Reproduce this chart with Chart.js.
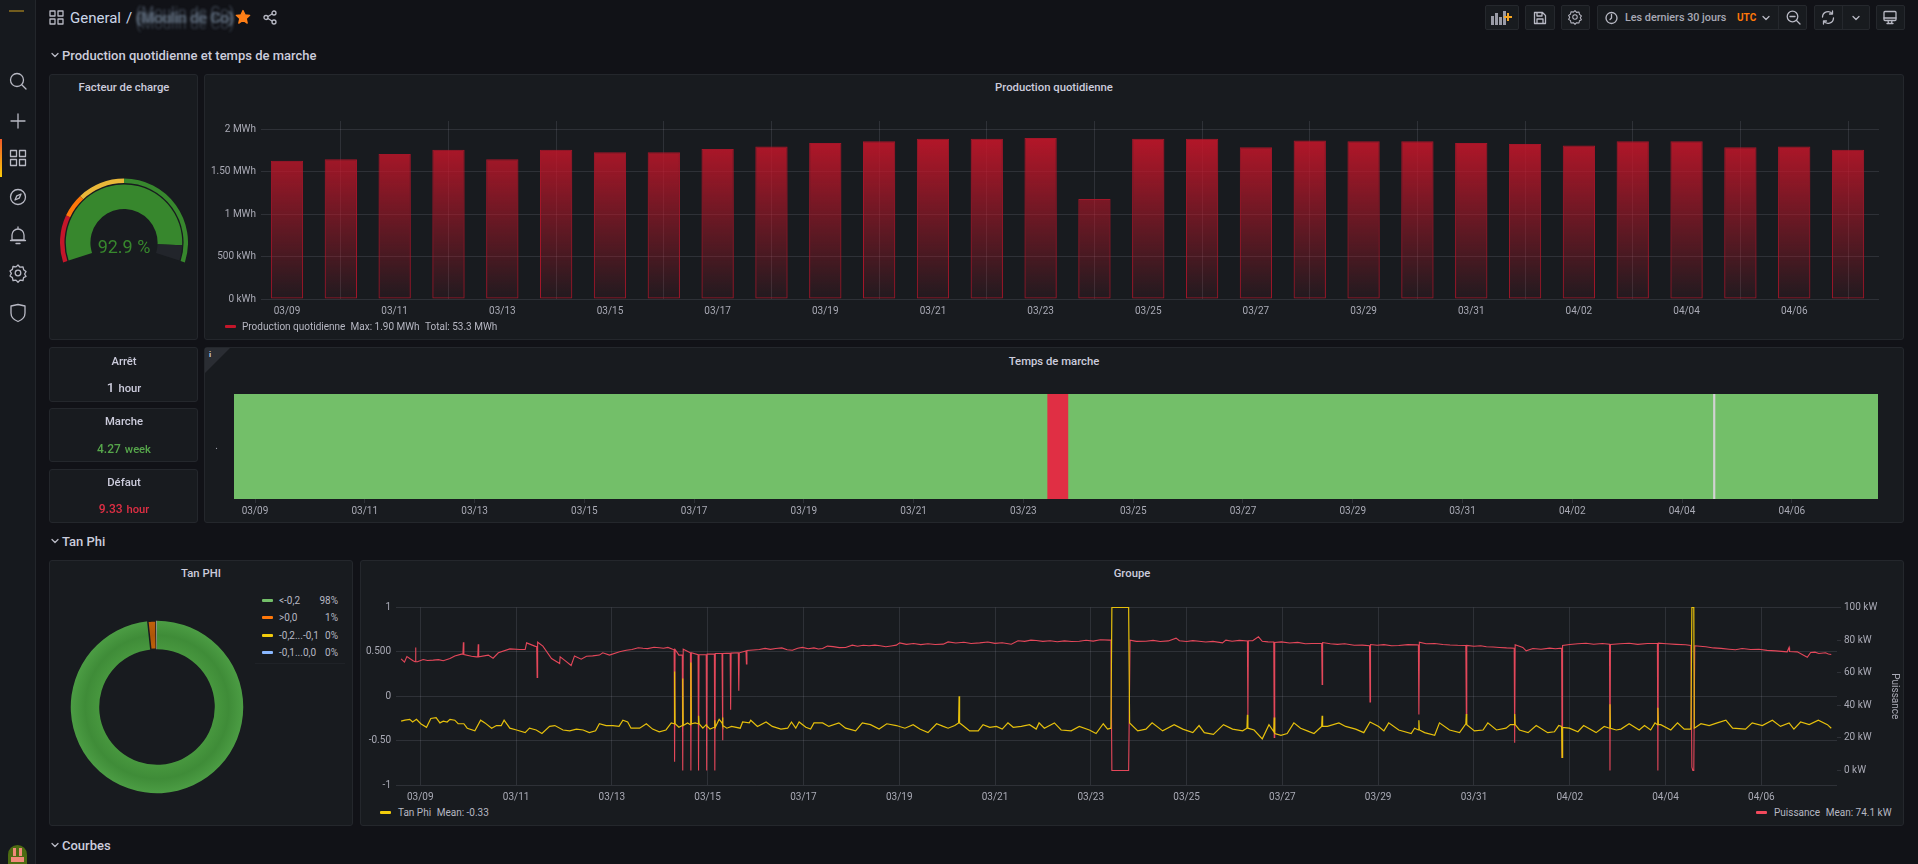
<!DOCTYPE html>
<html><head><meta charset="utf-8"><title>General</title>
<script src="https://cdn.jsdelivr.net/npm/chart.js@4/dist/chart.umd.js"></script>
<style>
html,body{margin:0;padding:0;width:1918px;height:864px;overflow:hidden;background:#111217;font-family:Roboto,sans-serif;color:#ccccdc}
.abs,.panel,.t,canvas,svg{position:absolute}
canvas{display:block}
.panel{background:#181b1f;border:1px solid #24272c;border-radius:3px;box-sizing:border-box}
.t{white-space:nowrap;line-height:1}
.c{transform:translate(-50%,-50%)}
.v{transform:translateY(-50%)}
.title{font-size:11.3px;font-weight:500;color:#ccccdc}
.sec{font-size:13px;font-weight:500;color:#ccccdc}
.leg{font-size:10px;color:#b6b7c2}
.sw{position:absolute;height:3px;border-radius:1px}
.btn{position:absolute;top:5px;height:25px;box-sizing:border-box;background:#181b1f;border:1px solid #25282d;border-radius:2px}
#side{position:absolute;left:0;top:0;width:36px;height:864px;background:#16191e;border-right:1px solid #23262b;box-sizing:border-box}
svg{fill:none;stroke:#b8b9c4;stroke-width:1.3;stroke-linecap:round;stroke-linejoin:round}
</style></head><body>
<div id="side"></div>
<div class="abs" style="left:0;top:139px;width:2px;height:38px;background:linear-gradient(#f05a28,#fbca0a)"></div>
<div class="abs" style="left:9px;top:10px;width:15px;height:2px;background:#8a6d1e;opacity:.8"></div>
<svg style="left:8px;top:71px" width="20" height="20" viewBox="0 0 20 20"><circle cx="9" cy="9" r="6.5"/><path d="M14 14l4 4"/></svg>
<svg style="left:10px;top:113px" width="16" height="16" viewBox="0 0 16 16"><path d="M8 1v14M1 8h14"/></svg>
<svg style="left:9px;top:149px" width="18" height="18" viewBox="0 0 18 18"><rect x="1.5" y="1.5" width="6" height="6"/><rect x="10.5" y="1.5" width="6" height="6"/><rect x="1.5" y="10.5" width="6" height="6"/><rect x="10.5" y="10.5" width="6" height="6"/></svg>
<svg style="left:8px;top:187px" width="20" height="20" viewBox="0 0 20 20"><circle cx="10" cy="10" r="7.5"/><path d="M13 7l-1.8 4.2L7 13l1.8-4.2z"/></svg>
<svg style="left:9px;top:226px" width="18" height="20" viewBox="0 0 18 20"><path d="M3 14V9a6 6 0 0 1 12 0v5zM1.5 14.5h15M7 17.5h4M9 1v2"/></svg>
<svg style="left:8px;top:263px" width="20" height="20" viewBox="0 0 20 20"><circle cx="10" cy="10" r="2.8"/><path d="M10 2l2 2.2 3-.4.6 2.9 2.4 1.9-1.4 2.4 1.4 2.4-2.4 1.2-.6 2.9-3-.4-2 2.2-2-2.2-3 .4-.6-2.9L2 13l1.4-2.6L2 8l2.4-1.6.6-2.9 3 .4z"/></svg>
<svg style="left:9px;top:303px" width="18" height="20" viewBox="0 0 18 20"><path d="M2 3l7-1.5L16 3v7c0 4-3 7-7 8.5C5 17 2 14 2 10z"/></svg>
<div class="abs" style="left:8px;top:845px;width:19px;height:19px;border-radius:50% 50% 0 0;background:#4d6b12;overflow:hidden"><div class="abs" style="left:5px;top:3px;width:3px;height:8px;background:#f08a7a"></div><div class="abs" style="left:11px;top:3px;width:3px;height:8px;background:#f08a7a"></div><div class="abs" style="left:3px;top:12px;width:13px;height:5px;background:#f08a7a"></div></div>

<svg style="left:49px;top:10px" width="15" height="15" viewBox="0 0 15 15"><rect x="1" y="1" width="5" height="5"/><rect x="9" y="1" width="5" height="5"/><rect x="1" y="9" width="5" height="5"/><rect x="9" y="9" width="5" height="5"/></svg>
<div class="t v" style="left:70px;top:18px;font-size:15px;color:#ccd6e8">General</div>
<div class="t v" style="left:126px;top:18px;font-size:15px;color:#ccd6e8">/</div>
<div class="t v" style="left:136px;top:18px;font-size:15px;color:#566272;filter:blur(.8px);text-shadow:0 -6px 1px rgba(90,104,120,.6),0 6px 1px rgba(90,104,120,.5),1px 0 0 #46505c,-1px 0 0 #46505c">(Moulin de Co)</div>
<svg style="left:235px;top:9px;fill:#ff7f17;stroke:#ff7f17" width="16" height="16" viewBox="0 0 16 16"><path d="M8 1.5l2 4.3 4.7.5-3.5 3.2 1 4.6L8 11.3l-4.2 2.8 1-4.6L1.300 6.300 6 5.800z"/></svg>
<svg style="left:263px;top:10px" width="14" height="15" viewBox="0 0 14 15"><circle cx="3" cy="7.500" r="2"/><circle cx="11" cy="3" r="2"/><circle cx="11" cy="12" r="2"/><path d="M5 6.500l4-2.500M5 8.500l4 2.500"/></svg>

<div class="btn" style="left:1485px;width:34px"></div>
<svg style="left:1491px;top:10px;stroke-width:0;fill:#9a9ba6" width="22" height="16" viewBox="0 0 22 16"><rect x="0" y="6" width="3" height="9"/><rect x="4" y="3" width="3" height="12"/><rect x="8" y="7" width="3" height="8"/><rect x="12" y="1" width="3" height="14"/><path d="M16 3h2v3h3v2h-3v3h-2V8h-3V6h3z" fill="#f5a623"/></svg>
<div class="btn" style="left:1525px;width:30px"></div>
<svg style="left:1533px;top:11px" width="14" height="14" viewBox="0 0 14 14"><path d="M1.500 1.500h8l3 3v8h-11zM4 1.500v3.500h5V1.500M4 12.500V8h6v4.500"/></svg>
<div class="btn" style="left:1561px;width:29px"></div>
<svg style="left:1567px;top:9px" width="16" height="16" viewBox="0 0 20 20"><circle cx="10" cy="10" r="2.8"/><path d="M10 2l2 2.2 3-.4.6 2.9 2.4 1.900-1.400 2.400 1.400 2.400-2.400 1.200-.6 2.900-3-.4-2 2.200-2-2.200-3 .4-.6-2.900L2 13l1.400-2.600L2 8l2.400-1.600.6-2.900 3 .4z"/></svg>
<div class="btn" style="left:1597px;width:210px"></div>
<div class="abs" style="left:1778px;top:5px;width:1px;height:25px;background:#25282d"></div>
<svg style="left:1605px;top:11px" width="13" height="14" viewBox="0 0 13 14"><circle cx="6.500" cy="7" r="5.500"/><path d="M6.500 3.500V7L5 8.500"/></svg>
<div class="t v" style="left:1625px;top:18px;font-size:10.800px;font-weight:500;color:#a8a9b5">Les derniers 30 jours</div>
<div class="t v" style="left:1737px;top:18px;font-size:10px;font-weight:700;color:#ff780a">UTC</div>
<svg style="left:1762px;top:14px" width="8" height="8" viewBox="0 0 8 8"><path d="M1 2.500l3 3 3-3"/></svg>
<svg style="left:1786px;top:10px" width="15" height="15" viewBox="0 0 15 15"><circle cx="6.500" cy="6.500" r="5.300"/><path d="M4 6.500h5M10.500 10.500l3.500 3.500"/></svg>
<div class="btn" style="left:1814px;width:56px"></div>
<div class="abs" style="left:1842px;top:5px;width:1px;height:25px;background:#25282d"></div>
<svg style="left:1821px;top:10px" width="14" height="15" viewBox="0 0 14 15"><path d="M1.500 7a5.500 5.500 0 0 1 10-3M12.500 8a5.500 5.500 0 0 1-10 3M11.500 1v3h-3M2.500 14v-3h3"/></svg>
<svg style="left:1852px;top:14px" width="8" height="8" viewBox="0 0 8 8"><path d="M1 2.500l3 3 3-3"/></svg>
<div class="btn" style="left:1876px;width:29px"></div>
<svg style="left:1883px;top:10px" width="14" height="15" viewBox="0 0 14 15"><rect x="1" y="1.500" width="12" height="9" rx="1"/><path d="M4 13.500h6M5 10.500l.5 3M9 10.500l-.5 3M1 8h12"/></svg>

<svg style="left:51px;top:51px" width="8" height="8" viewBox="0 0 8 8"><path d="M1 2.500l3 3 3-3"/></svg>
<div class="t v sec" style="left:62px;top:55px">Production quotidienne et temps de marche</div>
<svg style="left:51px;top:537px" width="8" height="8" viewBox="0 0 8 8"><path d="M1 2.500l3 3 3-3"/></svg>
<div class="t v sec" style="left:62px;top:540.500px">Tan Phi</div>
<svg style="left:51px;top:841px" width="8" height="8" viewBox="0 0 8 8"><path d="M1 2.500l3 3 3-3"/></svg>
<div class="t v sec" style="left:62px;top:845px">Courbes</div>

<div class="panel" style="left:49px;top:74px;width:149px;height:266px"></div>
<div class="t c title" style="left:124px;top:87.500px">Facteur de charge</div>
<canvas id="gauge" class="abs"></canvas>
<div class="t c" style="left:124px;top:247px;font-size:18px;color:#37872d">92.9 %</div>

<div class="panel" style="left:204px;top:74px;width:1700px;height:266px"></div>
<div class="t c title" style="left:1054px;top:87.500px">Production quotidienne</div>
<canvas id="prod" class="abs"></canvas>
<div class="sw" style="left:225px;top:325px;width:11px;background:#c4162a"></div>
<div class="t v leg" style="left:242px;top:327px">Production quotidienne</div>
<div class="t v leg" style="left:350.500px;top:327px">Max: 1.90 MWh</div>
<div class="t v leg" style="left:425px;top:327px">Total: 53.3 MWh</div>

<div class="panel" style="left:49px;top:347px;width:149px;height:55px"></div>
<div class="t c title" style="left:124px;top:361.500px">Arrêt</div>
<div class="t c" style="left:124px;top:386.500px;font-weight:500;color:#ccccdc"><span style="font-size:13.500px">1</span> <span style="font-size:11.200px">hour</span></div>
<div class="panel" style="left:49px;top:408px;width:149px;height:54px"></div>
<div class="t c title" style="left:124px;top:422px">Marche</div>
<div class="t c" style="left:124px;top:447.500px;font-weight:500;color:#56a64b"><span style="font-size:12px">4.27</span> <span style="font-size:11.200px">week</span></div>
<div class="panel" style="left:49px;top:469px;width:149px;height:54px"></div>
<div class="t c title" style="left:124px;top:483px">Défaut</div>
<div class="t c" style="left:124px;top:508px;font-weight:500;color:#e02f44"><span style="font-size:12px">9.33</span> <span style="font-size:11.200px">hour</span></div>

<div class="panel" style="left:204px;top:347px;width:1700px;height:176px"></div>
<div class="abs" style="left:205px;top:348px;width:0;height:0;border-top:25px solid #2a2d33;border-right:25px solid transparent"></div>
<div class="t" style="left:209px;top:351px;font-size:8px;font-weight:700;color:#ccccdc">i</div>
<div class="t c title" style="left:1054px;top:361.500px">Temps de marche</div>
<canvas id="state" class="abs"></canvas>

<div class="panel" style="left:49px;top:560px;width:304px;height:266px"></div>
<div class="t c title" style="left:201px;top:574px">Tan PHI</div>
<canvas id="donut" class="abs"></canvas>
<div class="sw" style="left:262px;top:599px;width:11px;background:#73bf69"></div>
<div class="t v leg" style="left:279px;top:600.700px">&lt;-0,2</div>
<div class="t v leg" style="right:1580px;top:600.700px">98%</div>
<div class="sw" style="left:262px;top:616px;width:11px;background:#ff780a"></div>
<div class="t v leg" style="left:279px;top:617.700px">&gt;0,0</div>
<div class="t v leg" style="right:1580px;top:617.700px">1%</div>
<div class="sw" style="left:262px;top:634px;width:11px;background:#f2cc0c"></div>
<div class="t v leg" style="left:279px;top:635.700px">-0,2...-0,1</div>
<div class="t v leg" style="right:1580px;top:635.700px">0%</div>
<div class="sw" style="left:262px;top:651px;width:11px;background:#8ab8ff"></div>
<div class="t v leg" style="left:279px;top:652.700px">-0,1...0,0</div>
<div class="t v leg" style="right:1580px;top:652.700px">0%</div>
<div class="abs" style="left:255px;top:663px;width:90px;height:1px;background:#1f2227"></div>

<div class="panel" style="left:360px;top:560px;width:1544px;height:266px"></div>
<div class="t c title" style="left:1132px;top:574px">Groupe</div>
<canvas id="group" class="abs"></canvas>
<div class="sw" style="left:380px;top:811px;width:11px;background:#f2cc0c"></div>
<div class="t v leg" style="left:398px;top:812.700px">Tan Phi</div>
<div class="t v leg" style="left:436.700px;top:812.700px">Mean: -0.33</div>
<div class="sw" style="left:1756px;top:811px;width:11px;background:#f2495c"></div>
<div class="t v leg" style="left:1774px;top:812.700px">Puissance</div>
<div class="t v leg" style="left:1825.700px;top:812.700px">Mean: 74.1 kW</div>

<script>
// ---- Production quotidienne (MWh per day; days counted from 03/09)
const prodDays = [0,1,2,3,4,5,6,7,8,9,10,11,12,13,14,15,16,17,18,19,20,21,22,23,24,25,26,27,28,29];
const prodValues = [1.63,1.65,1.71,1.76,1.65,1.76,1.73,1.73,1.77,1.80,1.84,1.86,1.89,1.89,1.90,1.18,1.89,1.89,1.79,1.87,1.86,1.86,1.84,1.83,1.81,1.86,1.86,1.79,1.80,1.76];
const prodTicks = [0,0.5,1,1.5,2];
const prodTickLabels = ['0 kWh','500 kWh','1 MWh','1.50 MWh','2 MWh'];

// ---- Date ticks: days counted from 03/09
const tickDays = [0,2,4,6,8,10,12,14,16,18,20,22,24,26,28];
const tickDates = ['03/09','03/11','03/13','03/15','03/17','03/19','03/21','03/23','03/25','03/27','03/29','03/31','04/02','04/04','04/06'];

// ---- Temps de marche (state periods, days from 03/09)
const stateNames = ['Marche','Défaut','Marche','Arrêt','Marche'];
const stateStarts = [-0.383,14.43,14.81,26.56,26.60];
const stateEnds = [14.43,14.81,26.56,26.60,29.57];
const stateColors = ['#73bf69','#e02f44','#73bf69','#d2d2d2','#73bf69'];

// ---- Facteur de charge
const gaugeValues = [92.9,7.1];
const gaugeColors = ['#37872d','#22252b'];
const gaugeThresholds = [20,10,20,50];
const gaugeThresholdColors = ['#c4162a','#ff780a','#eab839','#37872d'];

// ---- Tan PHI
const tanLabels = ['<-0,2','>0,0','-0,2...-0,1','-0,1...0,0'];
const tanShares = [98.3,1.5,0.1,0.1];

// ---- Groupe: Tan Phi
const tanPhiDays = [
-0.40,-0.32,-0.22,-0.16,-0.08,0.01,0.13,0.22,0.33,0.41,
0.48,0.56,0.62,0.72,0.79,0.91,0.98,1.14,1.26,1.35,
1.49,1.59,1.69,1.75,1.87,2.01,2.19,2.28,2.42,2.54,
2.70,2.81,2.98,3.12,3.26,3.40,3.53,3.66,3.74,3.88,
4.02,4.15,4.23,4.33,4.40,4.58,4.72,4.85,4.99,5.13,
5.24,5.30,5.31,5.32,5.40,5.47,5.48,5.49,5.58,5.64,
5.65,5.66,5.74,5.80,5.81,5.82,5.90,5.97,5.98,6.05,
6.14,6.15,6.16,6.24,6.30,6.31,6.32,6.40,6.50,6.68,
6.73,6.87,6.90,7.04,7.22,7.35,7.53,7.67,7.75,7.84,
7.91,8.05,8.15,8.22,8.40,8.53,8.74,8.88,9.09,9.23,
9.40,9.58,9.74,9.94,10.12,10.29,10.43,10.60,10.78,10.92,
11.02,11.16,11.24,11.25,11.26,11.33,11.47,11.65,11.75,11.89,
12.03,12.15,12.27,12.38,12.55,12.72,12.86,12.92,13.03,13.24,
13.38,13.59,13.76,13.97,14.11,14.26,14.35,14.42,14.44,14.79,
14.81,14.98,15.15,15.28,15.50,15.74,15.92,16.13,16.26,16.37,
16.56,16.77,16.96,17.17,17.26,17.27,17.28,17.41,17.58,17.72,
17.82,17.83,17.84,17.97,18.10,18.24,18.38,18.52,18.66,18.82,
18.83,18.84,18.94,19.18,19.32,19.53,19.70,19.83,20.01,20.12,
20.22,20.43,20.69,20.76,20.84,20.85,20.86,20.97,21.18,21.28,
21.49,21.70,21.83,21.84,21.85,22.01,22.19,22.29,22.47,22.67,
22.76,22.84,22.85,22.86,22.95,23.13,23.30,23.54,23.68,23.77,
23.83,23.84,23.85,23.99,24.17,24.29,24.55,24.72,24.83,24.84,
24.85,24.97,25.07,25.24,25.45,25.56,25.69,25.78,25.83,25.84,
25.85,25.90,26.11,26.25,26.39,26.53,26.55,26.59,26.60,26.74,
26.91,27.08,27.26,27.40,27.67,27.81,28.02,28.23,28.40,28.58,
28.68,28.82,29.00,29.19,29.38,29.46];
const tanPhiValues = [
-0.28,-0.27,-0.26,-0.29,-0.26,-0.31,-0.35,-0.25,-0.24,-0.30,
-0.28,-0.29,-0.26,-0.27,-0.31,-0.31,-0.36,-0.39,-0.27,-0.30,
-0.36,-0.33,-0.33,-0.27,-0.36,-0.38,-0.41,-0.36,-0.38,-0.42,
-0.34,-0.33,-0.38,-0.39,-0.37,-0.38,-0.41,-0.39,-0.31,-0.33,
-0.33,-0.34,-0.27,-0.29,-0.36,-0.36,-0.31,-0.37,-0.40,-0.38,
-0.30,-0.31,0.28,-0.31,-0.35,-0.33,0.20,-0.33,-0.30,-0.32,
0.38,-0.31,-0.30,-0.31,-0.22,-0.31,-0.36,-0.32,-0.33,-0.37,
-0.35,-0.27,-0.35,-0.26,-0.30,-0.24,-0.33,-0.36,-0.34,-0.36,
-0.29,-0.30,-0.27,-0.34,-0.29,-0.34,-0.37,-0.36,-0.29,-0.36,
-0.29,-0.35,-0.37,-0.30,-0.30,-0.34,-0.30,-0.36,-0.39,-0.30,
-0.32,-0.37,-0.31,-0.33,-0.36,-0.32,-0.37,-0.41,-0.31,-0.34,
-0.36,-0.33,-0.30,0.00,-0.30,-0.33,-0.39,-0.39,-0.32,-0.35,
-0.34,-0.37,-0.30,-0.35,-0.34,-0.32,-0.37,-0.30,-0.36,-0.30,
-0.38,-0.39,-0.34,-0.38,-0.42,-0.31,-0.37,-0.36,1.00,1.00,
-0.30,-0.39,-0.37,-0.30,-0.39,-0.32,-0.37,-0.41,-0.33,-0.41,
-0.43,-0.32,-0.37,-0.39,-0.36,-0.21,-0.36,-0.38,-0.48,-0.32,
-0.40,-0.24,-0.42,-0.44,-0.42,-0.30,-0.36,-0.39,-0.42,-0.34,
-0.22,-0.34,-0.34,-0.30,-0.34,-0.37,-0.41,-0.29,-0.34,-0.39,
-0.30,-0.38,-0.42,-0.36,-0.38,-0.27,-0.38,-0.41,-0.44,-0.30,
-0.38,-0.41,-0.31,-0.20,-0.32,-0.39,-0.38,-0.30,-0.38,-0.36,
-0.32,-0.32,-0.20,-0.32,-0.38,-0.41,-0.33,-0.41,-0.40,-0.33,
-0.34,-0.69,-0.35,-0.36,-0.40,-0.33,-0.41,-0.34,-0.36,-0.09,
-0.36,-0.38,-0.37,-0.31,-0.38,-0.33,-0.38,-0.30,-0.32,-0.13,
-0.32,-0.32,-0.38,-0.30,-0.37,-0.37,1.00,1.00,-0.36,-0.31,
-0.33,-0.30,-0.27,-0.36,-0.37,-0.30,-0.33,-0.27,-0.34,-0.30,
-0.37,-0.29,-0.32,-0.27,-0.32,-0.36];
const tanPhiTicks = [-1,-0.5,0,0.5,1];
const tanPhiTickLabels = ['-1','-0.50','0','0.500','1'];

// ---- Groupe: Puissance (kW)
const powerDays = [
-0.40,-0.33,-0.28,-0.15,-0.11,-0.10,-0.09,-0.06,0.06,0.15,
0.27,0.38,0.48,0.62,0.72,0.86,0.89,0.90,0.91,1.07,
1.17,1.20,1.21,1.22,1.42,1.52,1.63,1.87,2.08,2.19,
2.22,2.39,2.43,2.44,2.45,2.56,2.74,2.91,2.92,3.01,
3.15,3.22,3.36,3.47,3.60,3.74,3.81,3.95,4.16,4.30,
4.42,4.55,4.65,4.75,4.88,4.99,5.08,5.17,5.27,5.30,
5.31,5.32,5.40,5.47,5.48,5.49,5.64,5.65,5.66,5.80,
5.81,5.82,5.97,5.98,5.99,6.14,6.15,6.16,6.30,6.31,
6.32,6.47,6.48,6.49,6.64,6.65,6.66,6.80,6.81,6.82,
6.95,7.08,7.20,7.31,7.42,7.55,7.66,7.77,7.88,7.98,
8.10,8.22,8.31,8.40,8.50,8.62,8.75,8.88,9.02,9.13,
9.25,9.37,9.49,9.60,9.72,9.83,9.94,10.01,10.15,10.30,
10.45,10.60,10.75,10.92,11.02,11.18,11.35,11.50,11.68,11.85,
12.00,12.15,12.34,12.48,12.62,12.75,12.86,13.00,13.15,13.30,
13.45,13.60,13.76,13.90,14.05,14.20,14.39,14.42,14.44,14.79,
14.82,14.95,15.15,15.30,15.45,15.62,15.78,15.85,16.00,16.13,
16.26,16.40,16.55,16.75,16.82,16.95,17.10,17.27,17.28,17.29,
17.38,17.50,17.58,17.70,17.82,17.83,17.84,17.98,18.15,18.32,
18.48,18.62,18.82,18.83,18.84,19.00,19.15,19.30,19.50,19.67,
19.82,19.83,19.84,19.98,20.12,20.28,20.43,20.62,20.80,20.84,
20.85,20.86,21.00,21.18,21.35,21.50,21.66,21.83,21.84,21.85,
22.00,22.14,22.26,22.40,22.53,22.68,22.84,22.85,22.86,23.02,
23.09,23.23,23.40,23.58,23.70,23.83,23.84,23.85,24.00,24.17,
24.34,24.50,24.68,24.83,24.84,24.85,25.05,25.24,25.42,25.62,
25.83,25.84,25.85,26.02,26.22,26.42,26.53,26.55,26.57,26.59,
26.61,26.72,26.84,27.00,27.16,27.33,27.46,27.60,27.78,27.95,
28.12,28.30,28.42,28.54,28.58,28.59,28.75,28.96,29.03,29.12,
29.20,29.34,29.40,29.46];
const powerValues = [
68.5,66.5,69.9,67.3,66.7,75.5,66.7,66.7,68.1,67.5,
67.7,68.0,67.3,68.7,70.3,71.4,71.4,78.7,71.2,70.1,
69.7,69.7,77.5,69.7,70.8,68.9,72.2,74.6,74.2,74.2,
78.3,76.3,76.0,57.1,78.7,76.3,68.7,65.6,69.7,67.7,
64.4,70.3,68.3,70.1,70.3,70.8,72.2,70.8,72.8,73.8,
74.2,75.3,75.0,74.8,75.6,75.3,75.0,75.5,74.4,74.2,
5.3,74.2,70.8,70.8,0,74.4,72.2,0,72.2,71.0,
0,71.0,71.0,0,71.4,71.5,0,71.8,71.8,18.6,
71.8,72.0,37.2,72.0,72.2,48.9,72.2,73.4,65.4,73.6,
73.9,74.2,74.9,74.3,74.8,75.2,74.1,73.8,75.0,75.5,
74.7,75.2,74.5,74.8,76.3,76.0,75.4,75.5,76.9,76.2,
76.8,76.5,76.9,76.5,75.9,76.4,76.9,78.3,77.4,77.9,
77.2,77.8,77.3,77.5,78.9,78.2,78.7,77.9,78.3,78.8,
78.0,78.4,77.5,79.6,79.2,80.0,79.8,79.2,79.6,79.0,
79.5,79.1,79.3,79.9,79.4,80.2,80.0,80.0,0,0,
80.0,79.2,79.3,79.8,79.1,79.5,81.2,79.6,79.1,79.7,
79.3,78.8,79.2,78.3,80.0,79.3,79.8,79.5,34.0,79.6,
79.6,82.0,79.3,78.9,78.8,20.2,78.5,78.9,78.2,78.6,
77.8,77.9,77.9,52.8,78.5,77.8,77.4,77.8,76.8,76.9,
76.5,42.1,77.3,76.8,77.2,76.5,76.7,77.2,77.1,77.0,
34.4,78.7,77.8,77.9,77.3,77.0,76.8,76.7,34.8,76.7,
76.2,76.5,75.9,75.8,75.5,75.2,75.0,17.0,77.1,75.5,
73.4,74.8,74.4,75.1,74.7,75.1,8.0,76.7,77.3,77.8,
78.1,77.5,77.9,77.5,0,77.3,77.8,78.1,77.4,77.9,
78.0,0,78.1,77.8,77.4,77.1,76.7,2.0,0,0,
76.5,76.2,75.9,75.2,74.9,74.4,74.1,74.8,74.2,74.4,
73.7,73.4,73.1,72.8,75.5,73.0,72.8,69.5,72.4,72.6,
71.8,72.2,71.5,71.2];
const powerTicks = [0,20,40,60,80,100];
const powerTickLabels = ['0 kW','20 kW','40 kW','60 kW','80 kW','100 kW'];

const GRID = 'rgba(204,204,220,0.13)';
const TICK = '#a9aab5';
const FONT = {family:'Roboto',size:10};
Chart.defaults.animation = false;
Chart.defaults.responsive = false;
Chart.defaults.devicePixelRatio = 1;
Chart.defaults.font.family = 'Roboto';
Chart.defaults.plugins.legend.display = false;
Chart.defaults.plugins.tooltip.enabled = false;

function place(id,l,t,w,h){const c=document.getElementById(id);c.style.left=l+'px';c.style.top=t+'px';c.width=w;c.height=h;c.style.width=w+'px';c.style.height=h+'px';return c;}
const zip=(a,b)=>a.map((x,i)=>({x,y:b[i]}));

// Gauge
new Chart(place('gauge',60,178,128,85),{type:'doughnut',
 data:{datasets:[
  {data:gaugeThresholds,backgroundColor:gaugeThresholdColors,weight:4.4,borderWidth:0},
  {data:[1],backgroundColor:'rgba(0,0,0,0)',weight:1.3,borderWidth:0},
  {data:gaugeValues,backgroundColor:gaugeColors,weight:24.3,borderWidth:0}]},
 options:{rotation:-108,circumference:216,cutout:'52.500%',layout:{padding:0}}});

// Production bars
new Chart(place('prod',205,100,1698,235),{type:'bar',
 data:{datasets:[{data:zip(prodDays,prodValues),
   backgroundColor:(c)=>{const ch=c.chart;if(!ch.chartArea)return '#c4162a';const s=ch.scales.y;
     const g=ch.ctx.createLinearGradient(0,s.getPixelForValue(2),0,s.getPixelForValue(0));
     g.addColorStop(0,'rgba(196,22,42,0.95)');g.addColorStop(1,'rgba(196,22,42,0.06)');return g;},
   borderColor:'rgba(176,22,42,0.92)',borderWidth:1,borderSkipped:false,barPercentage:0.6,categoryPercentage:1}]},
 options:{layout:{padding:{top:21,right:24,bottom:16,left:0}},
  scales:{
   x:{type:'linear',offset:false,min:-0.483,max:29.575,grid:{color:GRID,drawTicks:false},border:{display:false},
      afterBuildTicks:s=>{s.ticks=tickDays.map(v=>({value:v}));},afterFit:s=>{s.height=20;},
      ticks:{autoSkip:false,maxRotation:0,color:TICK,font:FONT,padding:6,callback:v=>tickDates[tickDays.indexOf(v)]}},
   y:{min:0,max:2.1,grid:{color:GRID,drawTicks:false},border:{display:false},
      afterBuildTicks:s=>{s.ticks=prodTicks.map(v=>({value:v}));},afterFit:s=>{s.width=56;},
      ticks:{color:TICK,font:FONT,padding:5,callback:v=>prodTickLabels[prodTicks.indexOf(v)]}}
  }}});

// State timeline
new Chart(place('state',205,380,1698,140),{type:'bar',
 data:{labels:['.'],datasets:stateNames.map((n,i)=>({label:n,data:[[stateStarts[i],stateEnds[i]]],backgroundColor:stateColors[i],borderWidth:0,barPercentage:1,categoryPercentage:1,grouped:false}))},
 options:{indexAxis:'y',layout:{padding:{top:7,right:25,bottom:0,left:0}},
  scales:{
   x:{type:'linear',min:-0.383,max:29.57,grid:{drawOnChartArea:false,color:GRID,tickLength:4},border:{display:false},
      afterBuildTicks:s=>{s.ticks=tickDays.map(v=>({value:v}));},afterFit:s=>{s.height=21;},
      ticks:{autoSkip:false,maxRotation:0,color:TICK,font:FONT,padding:2,callback:v=>tickDates[tickDays.indexOf(v)]}},
   y:{grid:{display:false},border:{display:false},afterFit:s=>{s.width=29;},
      ticks:{color:TICK,font:FONT,padding:8}}
  }}});

// Tan PHI doughnut
const donutCanvas = place('donut',69.5,619.5,174,174);
const dctx = donutCanvas.getContext('2d');
function ring(a,b,c){const g=dctx.createRadialGradient(87,87,57,87,87,86.5);g.addColorStop(0,a);g.addColorStop(.5,b);g.addColorStop(1,c);return g;}
new Chart(donutCanvas,{type:'doughnut',
 data:{labels:tanLabels,datasets:[{data:tanShares,
   backgroundColor:[ring('#48983f','#3f8c38','#4c9d44'),ring('#c2620a','#ad5608','#c2620a'),'#f2cc0c','#8ab8ff'],
   borderColor:'#181b1f',borderWidth:[0,1.5,0,0]}]},
 options:{cutout:'67%',layout:{padding:0}}});

// Groupe lines
new Chart(place('group',361,595,1542,210),{type:'line',
 data:{datasets:[
  {label:'Tan Phi',data:zip(tanPhiDays,tanPhiValues),yAxisID:'y',borderColor:'#e6c00c',borderWidth:1.2,pointRadius:0,tension:0,order:1,clip:2},
  {label:'Puissance',data:zip(powerDays,powerValues),yAxisID:'y2',borderColor:'#e4475a',borderWidth:1.1,pointRadius:0,tension:0,order:2}]},
 options:{layout:{padding:{top:12.5,right:0,bottom:0,left:0}},
  scales:{
   x:{type:'linear',min:-0.507,max:29.58,grid:{color:GRID,drawTicks:false},border:{display:false},
      afterBuildTicks:s=>{s.ticks=tickDays.map(v=>({value:v}));},afterFit:s=>{s.height=20;},
      ticks:{autoSkip:false,maxRotation:0,color:TICK,font:FONT,padding:6,callback:v=>tickDates[tickDays.indexOf(v)]}},
   y:{min:-1,max:1,grid:{color:GRID,drawTicks:false},border:{display:false},
      afterBuildTicks:s=>{s.ticks=tanPhiTicks.map(v=>({value:v}));},afterFit:s=>{s.width=35;},
      ticks:{color:TICK,font:FONT,padding:5,callback:v=>tanPhiTickLabels[tanPhiTicks.indexOf(v)]}},
   y2:{position:'right',min:-8.9,max:100,grid:{drawOnChartArea:false,color:GRID,tickLength:4},border:{display:false},
      afterBuildTicks:s=>{s.ticks=powerTicks.map(v=>({value:v}));},afterFit:s=>{s.width=66;},
      title:{display:true,text:'Puissance',color:'#a9aab5',font:FONT,padding:{top:3,bottom:2}},
      ticks:{color:TICK,font:FONT,padding:3,callback:v=>powerTickLabels[powerTicks.indexOf(v)]}}
  }}});
</script>
</body></html>
